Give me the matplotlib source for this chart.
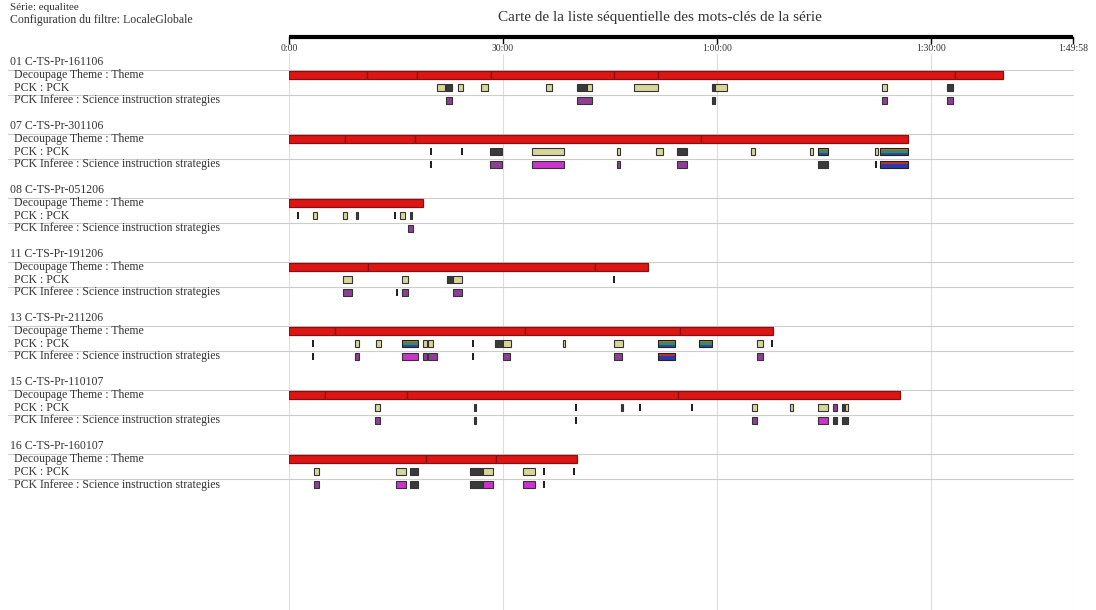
import matplotlib.pyplot as plt
from matplotlib.transforms import blended_transform_factory

# Carte séquentielle des mots-clés (minutes depuis le début de la séance)
duree_max = 109.967   # 1:49:58
graduations = [0, 30, 60, 90, duree_max]
etiquettes = ['0:00', '30:00', '1:00:00', '1:30:00', '1:49:58']

seances = ['01 C-TS-Pr-161106', '07 C-TS-Pr-301106', '08 C-TS-Pr-051206',
           '11 C-TS-Pr-191206', '13 C-TS-Pr-211206', '15 C-TS-Pr-110107',
           '16 C-TS-Pr-160107']
lignes = ['Decoupage Theme : Theme', 'PCK : PCK',
          'PCK Inferee : Science instruction strategies']

# fin de séance et limites des segments "Theme"
fin_seance = [100.1, 86.8, 18.8, 50.4, 67.9, 85.7, 40.4]
segments = [
    [10.9, 17.9, 28.3, 45.6, 51.8, 93.4],
    [7.9, 17.7, 57.8],
    [],
    [11.1, 42.9],
    [6.5, 33.1, 54.8],
    [5.0, 16.6, 54.6],
    [19.2, 29.0],
]

# (début, fin, type) ; b=PCK beige, k=sombre, t=trait, m=magenta, p=violet, s/r=rayé
pck = [
    [(20.8, 21.9, 'b'), (22.0, 22.9, 'k'), (23.7, 24.4, 'b'), (26.9, 27.9, 'b'),
     (36.0, 36.9, 'b'), (40.4, 41.8, 'k'), (41.8, 42.5, 'b'), (48.4, 51.8, 'b'),
     (59.3, 59.8, 'k'), (59.8, 61.4, 'b'), (83.2, 83.9, 'b'), (92.3, 93.1, 'k')],
    [(19.8, 20.1, 't'), (24.1, 24.4, 't'), (28.2, 29.9, 'k'), (34.1, 38.6, 'b'),
     (46.0, 46.4, 'b'), (51.5, 52.5, 'b'), (54.4, 55.8, 'k'), (64.8, 65.4, 'b'),
     (73.1, 73.5, 'b'), (74.2, 75.6, 's'), (82.2, 82.6, 'b'), (82.9, 86.8, 's')],
    [(1.1, 1.4, 't'), (3.4, 3.9, 'b'), (7.6, 8.1, 'b'), (9.4, 9.7, 'k'),
     (14.7, 15.0, 't'), (15.6, 16.3, 'b'), (17.0, 17.3, 'k')],
    [(7.6, 8.8, 'b'), (15.8, 16.7, 'b'), (22.2, 23.0, 'k'), (23.0, 24.3, 'b'),
     (45.4, 45.7, 't')],
    [(3.2, 3.5, 't'), (9.3, 9.8, 'b'), (12.2, 12.9, 'b'), (15.8, 18.1, 's'),
     (18.8, 19.4, 'b'), (19.5, 20.2, 'b'), (25.7, 26.0, 't'), (28.9, 30.0, 'k'),
     (30.0, 31.1, 'b'), (38.4, 38.7, 'b'), (45.6, 46.8, 'b'), (51.8, 54.1, 's'),
     (57.5, 59.3, 's'), (65.6, 66.5, 'b'), (67.6, 67.9, 't')],
    [(12.1, 12.8, 'b'), (25.9, 26.2, 'k'), (40.1, 40.4, 't'), (46.6, 46.9, 'k'),
     (49.1, 49.4, 't'), (56.4, 56.7, 't'), (64.9, 65.6, 'b'), (70.3, 70.7, 'b'),
     (74.2, 75.6, 'b'), (76.3, 76.9, 'p'), (77.6, 77.8, 'k'), (78.0, 78.4, 'b')],
    [(3.5, 4.2, 'b'), (15.0, 16.4, 'b'), (17.0, 18.1, 'k'), (25.4, 27.2, 'k'),
     (27.2, 28.6, 'b'), (32.8, 34.5, 'b'), (35.6, 35.9, 't'), (39.8, 40.1, 't')],
]
inferee = [
    [(22.0, 22.9, 'p'), (40.4, 42.5, 'p'), (59.3, 59.8, 'k'), (83.2, 83.9, 'p'),
     (92.3, 93.1, 'p')],
    [(19.8, 20.1, 't'), (28.2, 29.9, 'p'), (34.1, 38.6, 'm'), (46.0, 46.4, 'p'),
     (54.4, 55.8, 'p'), (74.2, 75.6, 'k'), (82.2, 82.5, 't'), (82.9, 86.8, 'r')],
    [(16.7, 17.4, 'p')],
    [(7.6, 8.8, 'p'), (15.0, 15.3, 't'), (15.8, 16.7, 'p'), (23.0, 24.3, 'p')],
    [(3.2, 3.5, 't'), (9.3, 9.8, 'p'), (15.8, 18.1, 'm'), (18.8, 19.4, 'p'),
     (19.5, 20.8, 'p'), (25.7, 26.0, 't'), (30.0, 31.0, 'p'), (45.6, 46.7, 'p'),
     (51.8, 54.1, 'r'), (65.6, 66.5, 'p')],
    [(12.1, 12.8, 'p'), (25.9, 26.2, 'k'), (40.1, 40.4, 't'), (64.9, 65.6, 'p'),
     (74.2, 75.6, 'm'), (76.3, 76.9, 'k'), (77.6, 78.4, 'k')],
    [(3.5, 4.2, 'p'), (15.0, 16.4, 'm'), (17.0, 18.1, 'k'), (25.4, 27.2, 'k'),
     (27.2, 28.6, 'm'), (32.8, 34.5, 'm'), (35.6, 35.9, 't')],
]

couleurs = {'b': '#d6d69a', 'k': '#3a3a3a', 't': '#222222', 'm': '#cc33cc',
            'p': '#8e3f95'}
rayures = {'s': ['#b87333', '#3c8a5a', '#2a4aa8'], 'r': ['#c03030', '#2a3aa8']}

plt.rcParams['font.family'] = ['Liberation Serif', 'DejaVu Serif']

fig = plt.figure(figsize=(10.96, 6.10), dpi=100)
ax = fig.add_axes([289 / 1096, 0, (1073 - 289) / 1096, 573 / 610])
ax.set_xlim(0, duree_max)
ax.set_ylim(42.8, -1.95)
ax.axis('off')
gauche = blended_transform_factory(fig.transFigure, ax.transData)


def boite(y, d, f, typ, h=0.55):
    if typ in rayures:
        cols = rayures[typ]
        hh = h / len(cols)
        for j, c in enumerate(cols):
            ax.barh(y - h / 2 + hh * (j + 0.5), f - d, left=d, height=hh,
                    color=c, linewidth=0, zorder=3)
        ax.barh(y, f - d, left=d, height=h, fill=False, edgecolor='#222222',
                linewidth=0.8, zorder=4)
    elif typ == 't':
        ax.barh(y, f - d, left=d, height=h, color=couleurs['t'], linewidth=0,
                zorder=3)
    else:
        ax.barh(y, f - d, left=d, height=h, color=couleurs[typ],
                edgecolor='#333333', linewidth=0.8, zorder=3)


# axe du temps en haut
ax.plot([0, duree_max], [-1.95, -1.95], color='black', lw=3, clip_on=False,
        solid_capstyle='butt')
for g, e in zip(graduations, etiquettes):
    ax.plot([g, g], [-1.95, -1.5], color='black', lw=1, clip_on=False)
    ax.text(g, -1.05, e, fontsize=7, ha='center', va='center', color='#333333')
    ax.plot([g, g], [-0.6, 42.8], color='#dddddd', lw=0.8, zorder=0)

for i, nom in enumerate(seances):
    y0 = i * 5
    ax.text(10 / 1096, y0, nom, transform=gauche, fontsize=8.5, va='center',
            color='#333333')
    for k, lab in enumerate(lignes):
        ax.text(14 / 1096, y0 + 1 + k, lab, transform=gauche, fontsize=8.5,
                va='center', color='#333333')
    for yl in (y0 + 0.6, y0 + 2.55):
        ax.plot([8 / 1096, 1073 / 1096], [yl, yl], transform=gauche,
                color='#cccccc', lw=0.8, zorder=1, clip_on=False)

    # barre rouge des thèmes
    bornes = [0] + segments[i] + [fin_seance[i]]
    for d, f in zip(bornes[:-1], bornes[1:]):
        ax.barh(y0 + 1, f - d, left=d, height=0.66, color='#dd1515',
                edgecolor='#8a1010', linewidth=0.9, zorder=2)

    for d, f, typ in pck[i]:
        boite(y0 + 2, d, f, typ)
    for d, f, typ in inferee[i]:
        boite(y0 + 3, d, f, typ)

fig.text(660 / 1096, 1 - 18 / 610, 'Carte de la liste séquentielle des mots-clés de la série',
         fontsize=11, ha='center', va='center', color='#333333')
fig.text(10 / 1096, 1 - 8 / 610, 'Série: equalitee', fontsize=8, va='center',
         color='#333333')
fig.text(10 / 1096, 1 - 20 / 610, 'Configuration du filtre: LocaleGlobale',
         fontsize=8.5, va='center', color='#333333')

fig.savefig('out.png', dpi=100)
